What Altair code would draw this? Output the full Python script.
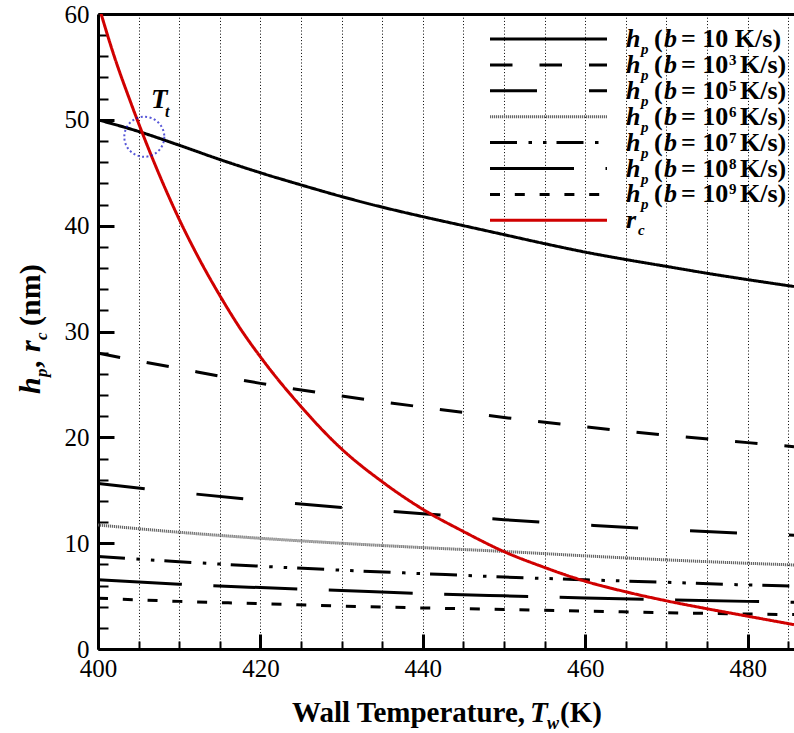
import altair as alt
import pandas as pd

# ---------------- data ----------------
T_COARSE = [400, 410, 420, 430, 440, 450, 460, 470, 480, 485.7]
T_FINE = [400, 405, 410, 415, 420, 425, 430, 435, 440, 445, 450, 455, 460,
          465, 470, 475, 480, 485.7]
HP_B1E1 = [50.0, 48.9, 47.6, 46.25, 45.0, 43.85, 42.75, 41.75, 40.85, 40.0,
           39.15, 38.3, 37.5, 36.8, 36.15, 35.5, 34.9, 34.25]
HP_B1E3 = [27.95, 26.5, 25.1, 23.9, 22.85, 21.88, 21.0, 20.2, 19.5, 19.12]
HP_B1E5 = [15.64, 14.8, 14.05, 13.38, 12.78, 12.22, 11.73, 11.28, 10.92, 10.75]
HP_B1E6 = [11.72, 11.03, 10.46, 9.99, 9.58, 9.22, 8.8, 8.42, 8.1, 7.94]
HP_B1E7 = [8.75, 8.25, 7.82, 7.45, 7.12, 6.8, 6.54, 6.3, 6.05, 5.95]
HP_B1E8 = [6.55, 6.12, 5.8, 5.52, 5.24, 5.02, 4.83, 4.66, 4.5, 4.42]
HP_B1E9 = [4.8, 4.5, 4.28, 4.05, 3.88, 3.73, 3.59, 3.43, 3.31, 3.25]
T_RC = [400, 402, 404, 406, 408, 410, 412.5, 415, 417.5, 420, 425, 430, 435,
        440, 445, 450, 455, 460, 465, 470, 475, 480, 485.7]
RC = [61.0, 56.0, 51.7, 47.7, 44.0, 40.6, 36.8, 33.4, 30.3, 27.6, 22.9, 18.9,
      15.8, 13.2, 11.1, 9.2, 7.7, 6.4, 5.4, 4.55, 3.8, 3.1, 2.3]
EXPONENTS = ["", "3", "5", "6", "7", "8", "9"]
X_LABEL_TICKS = [400, 420, 440, 460, 480]
Y_LABEL_TICKS = [0, 10, 20, 30, 40, 50, 60]
TT_POINT = [405.7, 48.4]

# ---------------- layout / style ----------------
W, H = 696, 635
PL, PT = 98, 14
XDOM = [400, 485.7]
YDOM = [0, 60]
FONT = "Liberation Serif"
XS = alt.Scale(domain=XDOM, nice=False, zero=False)
YS = alt.Scale(domain=YDOM, nice=False, zero=False)

SERIES = [
    ("b1", T_FINE, HP_B1E1, "black", [1, 0], 3),
    ("b3", T_COARSE, HP_B1E3, "black", [22.5, 27], 3),
    ("b5", T_COARSE, HP_B1E5, "black", [47, 52], 3),
    ("b6", T_COARSE, HP_B1E6, "#666666", [1.2, 0.8], 3),
    ("b7", T_COARSE, HP_B1E7, "black", [27, 11.5, 3.5, 11, 3.5, 10], 3),
    ("b8", T_COARSE, HP_B1E8, "black", [84, 31.5], 3),
    ("b9", T_COARSE, HP_B1E9, "black", [10, 14.8], 3),
    ("rc", T_RC, RC, "#d00000", [1, 0], 3),
]

minor_x = [v for v in range(405, 486, 5) if v % 20]
minor_y = [v for v in range(2, 60, 2) if v % 10]

ax_x_main = alt.Axis(orient="bottom", values=list(range(400, 486, 5)),
                     labelExpr="datum.value % 20 == 0 ? datum.label : ''",
                     labelFont=FONT, labelFontSize=25, labelColor="black",
                     labelPadding=7, ticks=False, tickSize=0, domain=True,
                     domainColor="black", domainWidth=3, grid=True,
                     gridColor="black", gridDash=[1, 2.2], gridWidth=1,
                     title=None, labelFlush=False, labelOverlap=False)
ax_y_main = alt.Axis(orient="left", values=Y_LABEL_TICKS, labelFont=FONT,
                     labelFontSize=25, labelColor="black", labelPadding=9,
                     ticks=False, tickSize=0, domain=True, domainColor="black",
                     domainWidth=3, grid=False, title=None, labelFlush=False,
                     labelOverlap=False)
ax_x_major_in = alt.Axis(orient="top", offset=-H, values=X_LABEL_TICKS,
                         labels=False, domain=False, grid=False, ticks=True,
                         tickSize=15, tickWidth=3, tickColor="black", title=None)
ax_y_major_in = alt.Axis(orient="right", offset=-W, values=Y_LABEL_TICKS,
                         labels=False, domain=False, grid=False, ticks=True,
                         tickSize=16, tickWidth=3, tickColor="black", title=None)
ax_x_minor_in = alt.Axis(orient="top", offset=-H, values=minor_x,
                         labels=False, domain=False, grid=False, ticks=True,
                         tickSize=8, tickWidth=2, tickColor="black", title=None)
ax_y_minor_in = alt.Axis(orient="right", offset=-W, values=minor_y,
                         labels=False, domain=False, grid=False, ticks=True,
                         tickSize=10, tickWidth=2, tickColor="black", title=None)
ax_x_top = alt.Axis(orient="top", labels=False, ticks=False, tickSize=0,
                    grid=False, domain=True, domainColor="black",
                    domainWidth=3, title=None)

AXES = [(ax_x_main, ax_y_main), (ax_x_major_in, ax_y_major_in),
        (ax_x_minor_in, ax_y_minor_in), (ax_x_top, None)]

layers = []
for i, (name, T, V, color, dash, width) in enumerate(SERIES):
    xa, ya = AXES[i] if i < len(AXES) else (None, None)
    df = pd.DataFrame({"T": T, "v": V})
    layers.append(
        alt.Chart(df).mark_line(color=color, strokeDash=dash, strokeWidth=width,
                                interpolate="monotone", clip=True).encode(
            x=alt.X("T:Q", scale=XS, axis=xa, title=None),
            y=alt.Y("v:Q", scale=YS, axis=ya, title=None)))

# T_t circle
circ = pd.DataFrame({"T": [TT_POINT[0]], "v": [TT_POINT[1]]})
layers.append(alt.Chart(circ).mark_point(shape="circle", size=1600, filled=False,
                                         stroke="#1010c8", strokeWidth=2,
                                         strokeDash=[2, 2.5]).encode(
    x=alt.X("T:Q", scale=XS, axis=None), y=alt.Y("v:Q", scale=YS, axis=None)))

# legend sample lines
LEG_X0, LEG_X1, LEG_Y0, LEG_DY = 490, 607, 39, 25.9
one = pd.DataFrame({"a": [0]})
for i, (name, T, V, color, dash, width) in enumerate(SERIES):
    ly = LEG_Y0 + LEG_DY * i - PT
    layers.append(alt.Chart(one).mark_rule(color=color, strokeDash=dash,
                                           strokeWidth=width).encode(
        x=alt.value(LEG_X0 - PL), x2=alt.value(LEG_X1 - PL), y=alt.value(ly)))

# text pieces (pixel positions relative to the plot origin)
pieces = []


def piece(text, px, py, fs, style, ang=0):
    pieces.append({"text": text, "px": px - PL, "py": py - PT, "fs": fs,
                   "style": style, "ang": ang})


for i in range(8):
    base = LEG_Y0 + LEG_DY * i + 8
    if i < 7:
        piece("h", 626, base, 26, "bi")
        piece("p", 641, base + 7, 15, "bi")
        piece("(", 654, base, 26, "b")
        piece("b", 664, base, 26, "bi")
        exp = EXPONENTS[i]
        if exp:
            piece("= 10", 681, base, 26, "b")
            piece(exp, 729, base - 8, 15, "b")
            piece("K/s)", 740, base, 26, "b")
        else:
            piece("= 10 K/s)", 681, base, 26, "b")
    else:
        piece("r", 626, base, 26, "bi")
        piece("c", 638, base + 7, 15, "bi")

# T_t label
piece("T", 151, 108, 27, "bi")
piece("t", 165, 117, 16, "bi")

# x title
XT_BASE = 722
piece("Wall Temperature,", 292, XT_BASE, 29, "b")
piece("T", 530, XT_BASE, 29, "bi")
piece("w", 547, XT_BASE + 7, 18, "bi")
piece("(K)", 560, XT_BASE, 29, "b")

# y title (rotated, reading upward)
YT_X = 40
piece("h", YT_X, 394, 30, "bi", 270)
piece("p", YT_X + 7, 377, 17, "bi", 270)
piece(",", YT_X, 368, 30, "b", 270)
piece("r", YT_X, 352, 30, "bi", 270)
piece("c", YT_X + 7, 340, 17, "bi", 270)
piece("(nm)", YT_X, 326, 30, "b", 270)

pdf = pd.DataFrame(pieces)
for style, fstyle in [("bi", "italic"), ("b", "normal")]:
    sub = pdf[pdf["style"] == style]
    layers.append(alt.Chart(sub).mark_text(font=FONT, fontWeight="bold",
                                           fontStyle=fstyle, align="left",
                                           baseline="alphabetic",
                                           color="black").encode(
        x=alt.X("px:Q", scale=None, axis=None),
        y=alt.Y("py:Q", scale=None, axis=None),
        text="text:N",
        size=alt.Size("fs:Q", scale=None, legend=None),
        angle=alt.Angle("ang:Q", scale=None)))

chart = alt.layer(*layers).resolve_axis(x="independent", y="independent").properties(
    width=W, height=H,
    autosize=alt.AutoSizeParams(type="none"),
    padding={"left": PL, "top": PT, "right": 0, "bottom": 733 - PT - H},
    background="white",
).configure_view(stroke=None)

chart.save("out.html", embed_options={"renderer": "svg", "actions": False})
